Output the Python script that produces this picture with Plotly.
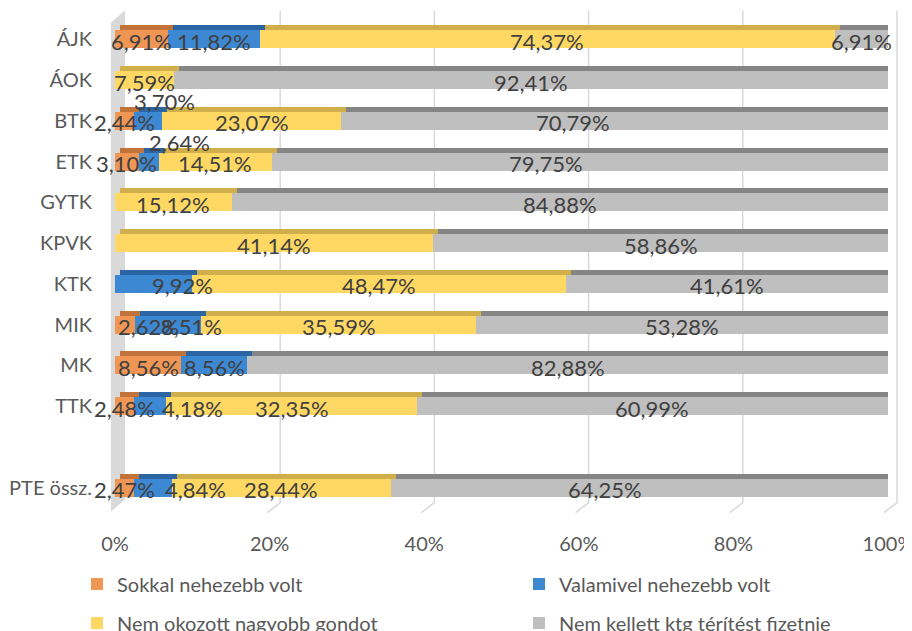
import plotly.graph_objects as go

categories = ["ÁJK", "ÁOK", "BTK", "ETK", "GYTK", "KPVK", "KTK", "MIK", "MK", "TTK", "", "PTE össz."]
series_names = ["Sokkal nehezebb volt", "Valamivel nehezebb volt",
                "Nem okozott nagyobb gondot", "Nem kellett ktg térítést fizetnie"]
sokkal = [6.91, 0, 2.44, 3.10, 0, 0, 0, 2.62, 8.56, 2.48, None, 2.47]
valamivel = [11.82, 0, 3.70, 2.64, 0, 0, 9.92, 8.51, 8.56, 4.18, None, 4.84]
nem_okozott = [74.37, 7.59, 23.07, 14.51, 15.12, 41.14, 48.47, 35.59, 0, 32.35, None, 28.44]
nem_kellett = [6.91, 92.41, 70.79, 79.75, 84.88, 58.86, 41.61, 53.28, 82.88, 60.99, None, 64.25]
series_values = [sokkal, valamivel, nem_okozott, nem_kellett]
x_ticks = [0, 20, 40, 60, 80, 100]

front_colors = ["#EF9654", "#3D88D3", "#FFD864", "#BFBFBF"]
back_colors = ["#C27339", "#2B65A3", "#CFAE4B", "#858585"]

# label nudges (pixels) where the original moved labels away from segment centre
label_shift = {
    (2, 1): (16, 21), (3, 1): (30, 21),
    (7, 0): (23, 0), (7, 1): (23, 0), (9, 1): (42, 0), (6, 1): (29, 0),
    (11, 1): (43, 0), (2, 3): (-41, 0), (3, 3): (-34, 0), (11, 3): (-35, 0),
}

# page offset: the figure div sits 8px in from the page corner
OFF = 8
FIG_W, FIG_H = 912, 631
# target screen geometry (pixels on the page)
PLOT_X0, PLOT_X1, PLOT_Y0, PLOT_Y1 = 115, 888, 18.6, 508.4
L = PLOT_X0 - OFF
R = FIG_W - (PLOT_X1 - OFF)
T = PLOT_Y0 - OFF
B = FIG_H - (PLOT_Y1 - OFF)
W = PLOT_X1 - PLOT_X0
H = PLOT_Y1 - PLOT_Y0
px_per_pct = W / 100
n = len(categories)
slot = H / n
depth = 5

# legend placement (page pixels): symbol column x, row centre y
legend_pos = [(77, 584), (519, 584), (77, 623), (519, 623)]

FONT = "Lato"
fig = go.Figure()
ypos = list(range(n))
legend_ids = ["legend", "legend2", "legend3", "legend4"]

# back (3D depth) layer on main axes, shifted right/up
for i, (name, vals) in enumerate(zip(series_names, series_values)):
    fig.add_trace(go.Bar(
        y=ypos, x=[v if v else None for v in vals], orientation="h",
        marker=dict(color=back_colors[i], line=dict(width=0)),
        showlegend=False, hoverinfo="skip", xaxis="x", yaxis="y"))

# front layer
for i, (name, vals) in enumerate(zip(series_names, series_values)):
    fig.add_trace(go.Bar(
        y=ypos, x=[v if v else None for v in vals], orientation="h", name=name,
        marker=dict(color=front_colors[i], line=dict(width=0)),
        xaxis="x2", yaxis="y2", legend=legend_ids[i]))

# data labels
for ci, cat in enumerate(categories):
    cum = 0
    for si, vals in enumerate(series_values):
        v = vals[ci]
        if v is None:
            continue
        if v > 0:
            dx, dy = label_shift.get((ci, si), (0, 0))
            fig.add_annotation(
                x=cum + v / 2, y=ci, xref="x2", yref="y2",
                text=f"{v:.2f}%".replace(".", ","), showarrow=False,
                xshift=dx, yshift=dy - 2,
                font=dict(family=FONT, size=22, color="#404040"))
        cum += v

def px2paper_x(px):
    return (px - PLOT_X0) / W

def px2paper_y(py):
    return (PLOT_Y1 - py) / H

shapes = []
# left back wall
wall = [(125, 10), (125, 500), (111, 512), (111, 22)]
path = "M " + " L ".join(f"{px2paper_x(a)},{px2paper_y(b)}" for a, b in wall) + " Z"
shapes.append(dict(type="path", path=path, xref="paper", yref="paper",
                   fillcolor="#D9D9D9", line=dict(width=0), layer="below"))
# gridlines on back wall
for t in x_ticks[1:]:
    gx = 126 + t * 7.71
    p = (f"M {px2paper_x(gx)},{px2paper_y(10)} L {px2paper_x(gx)},{px2paper_y(503)} "
         f"L {px2paper_x(gx - 13)},{px2paper_y(513)}")
    shapes.append(dict(type="path", path=p, xref="paper", yref="paper",
                       line=dict(color="#D9D9D9", width=1.5), layer="below"))

yr_front = [n - 0.5, -0.5]
d_y = depth / slot
d_x = depth / px_per_pct

legends = {}
for lid, (lx, ly) in zip(legend_ids, legend_pos):
    legends[lid] = dict(orientation="h", xref="container", yref="container",
                        x=(lx - OFF) / FIG_W, xanchor="left",
                        y=1 - (ly - OFF) / FIG_H, yanchor="middle",
                        itemwidth=30, traceorder="normal",
                        font=dict(family=FONT, size=20, color="#595959"),
                        bgcolor="rgba(0,0,0,0)")

fig.update_layout(
    width=FIG_W, height=FIG_H,
    margin=dict(l=L, r=R, t=T, b=B, autoexpand=False),
    paper_bgcolor="white", plot_bgcolor="rgba(0,0,0,0)",
    barmode="stack", bargap=0.56,
    font=dict(family=FONT, size=20, color="#595959"),
    shapes=shapes,
    xaxis=dict(range=[-d_x, 100 - d_x], showgrid=False, zeroline=False,
               showticklabels=False, fixedrange=True),
    yaxis=dict(range=[yr_front[0] + d_y, yr_front[1] + d_y], showgrid=False,
               zeroline=False, showticklabels=False),
    xaxis2=dict(overlaying="x", range=[0, 100], showgrid=False, zeroline=False,
                tickvals=x_ticks, ticktext=[f"{t}%" for t in x_ticks],
                side="bottom", ticklabelstandoff=22,
                tickfont=dict(family=FONT, size=20, color="#595959")),
    yaxis2=dict(overlaying="y", range=yr_front, showgrid=False, zeroline=False,
                tickvals=[i for i, c in enumerate(categories) if c],
                ticktext=[c for c in categories if c], side="left",
                ticklabelstandoff=22,
                tickfont=dict(family=FONT, size=20, color="#595959")),
    **legends,
)

fig.write_html("out.html")
